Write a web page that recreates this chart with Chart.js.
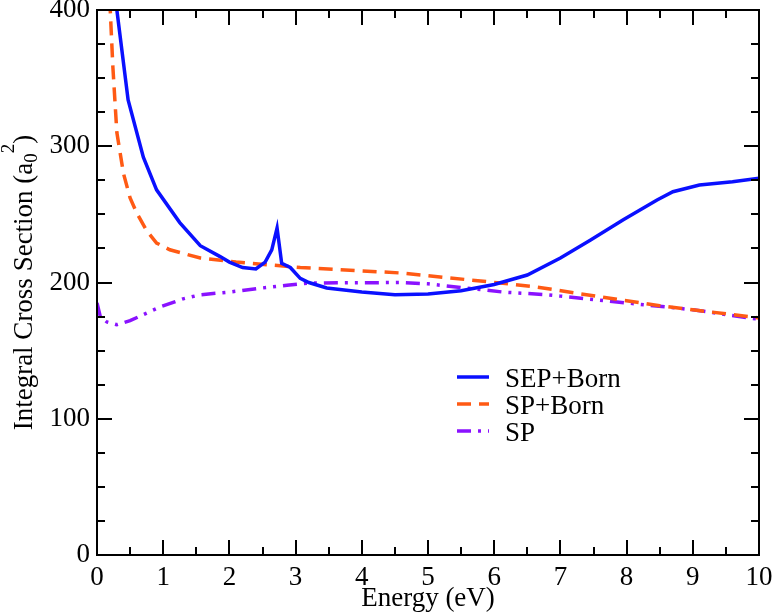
<!DOCTYPE html>
<html>
<head>
<meta charset="utf-8">
<script src="https://cdn.jsdelivr.net/npm/chart.js@4/dist/chart.umd.min.js"></script>
<style>
  html, body { margin: 0; padding: 0; background: #fff; }
  #wrap { position: relative; width: 773px; height: 615px; }
</style>
</head>
<body>
<div id="wrap"><canvas id="chart" width="773" height="615"></canvas></div>
<script>
// values: energy in eV, cross section in a0^2
const sepBornE = [0.25, 0.3, 0.47, 0.7, 0.9, 1.25, 1.56, 1.86, 2.0, 2.2, 2.4, 2.54, 2.64, 2.72, 2.79, 2.92, 3.07, 3.2, 3.47, 4.0, 4.5, 5.0, 5.5, 6.0, 6.5, 7.0, 7.45, 7.95, 8.46, 8.7, 9.1, 9.6, 10.0];
const sepBornV = [430, 400, 334, 292, 268, 244, 227, 219, 215, 211, 210, 215, 224, 240, 214, 211, 203, 200, 196, 193, 191, 191.5, 194, 198.5, 205.5, 218, 231, 246, 260.5, 266.6, 271.5, 274, 276.5];

const spBornE = [0.15, 0.2, 0.24, 0.3, 0.4, 0.5, 0.6, 0.75, 0.9, 1.1, 1.56, 2.1, 3.07, 4.58, 5.0, 6.09, 6.6, 7.6, 8.5, 9.0, 10.0];
const spBornV = [440, 400, 358, 310, 280, 262, 251, 238, 229, 224, 218, 215, 211, 207, 205, 199.6, 197, 189.5, 183, 180, 174];

const spE = [0.0, 0.05, 0.15, 0.3, 0.5, 0.95, 1.3, 1.56, 2.0, 2.5, 2.87, 3.2, 4.58, 5.0, 6.13, 6.8, 7.0, 8.0, 9.0, 10.0];
const spV = [185, 175, 171, 169, 172, 182, 188, 191, 193, 196, 198, 199.6, 200, 199, 193, 191, 190, 185, 180, 173];

const seriesNames = ["SEP+Born", "SP+Born", "SP"];
const seriesColors = ["#0a10ff", "#ff5a14", "#8a12ff"];
const seriesDashes = [[], [14, 8], [14, 7, 3, 7, 3, 7]];

const xMin = 0, xMax = 10, xMajor = 1, xMinor = 0.5;
const yMin = 0, yMax = 400, yMajor = 100, yMinor = 25;

const SERIF = "'Liberation Serif', 'Times New Roman', serif";

const toPoints = (xs, ys) => xs.map((x, i) => ({ x: x, y: ys[i] }));

// frame + inward ticks on all four sides (xmgrace style)
const frameTicks = {
  id: "frameTicks",
  afterDatasetsDraw(chart) {
    const { ctx, chartArea: a, scales: { x, y } } = chart;
    ctx.save();
    ctx.strokeStyle = "#000";
    ctx.lineWidth = 2;
    ctx.strokeRect(a.left, a.top, a.right - a.left, a.bottom - a.top);
    ctx.beginPath();
    for (let v = xMin; v <= xMax + 1e-9; v += xMinor) {
      const px = Math.round(x.getPixelForValue(v));
      const len = Math.abs(v / xMajor - Math.round(v / xMajor)) < 1e-6 ? 15 : 8;
      ctx.moveTo(px, a.bottom); ctx.lineTo(px, a.bottom - len);
      ctx.moveTo(px, a.top); ctx.lineTo(px, a.top + len);
    }
    for (let v = yMin; v <= yMax + 1e-9; v += yMinor) {
      const py = Math.round(y.getPixelForValue(v));
      const len = v % yMajor === 0 ? 15 : 8;
      ctx.moveTo(a.left, py); ctx.lineTo(a.left + len, py);
      ctx.moveTo(a.right, py); ctx.lineTo(a.right - len, py);
    }
    ctx.stroke();
    ctx.restore();
  }
};

// y title with subscript/superscript
const yTitle = {
  id: "yTitle",
  afterDraw(chart) {
    const { ctx, chartArea: a } = chart;
    const big = "27px " + SERIF, small = "19px " + SERIF;
    const parts = [
      { t: "Integral Cross Section (a", f: big, dy: 0 },
      { t: "0", f: small, dy: 5 },
      { t: "2", f: small, dy: -18 },
      { t: ")", f: big, dy: 0 }
    ];
    ctx.save();
    let total = 0;
    parts.forEach(p => { ctx.font = p.f; p.w = ctx.measureText(p.t).width; total += p.w; });
    const cy = (a.top + a.bottom) / 2;
    ctx.translate(32, cy);
    ctx.rotate(-Math.PI / 2);
    ctx.fillStyle = "#000";
    ctx.textBaseline = "alphabetic";
    ctx.textAlign = "left";
    let cx = -total / 2;
    parts.forEach(p => { ctx.font = p.f; ctx.fillText(p.t, cx, p.dy); cx += p.w; });
    ctx.restore();
  }
};

// legend box inside the plot
const innerLegend = {
  id: "innerLegend",
  afterDraw(chart) {
    const { ctx } = chart;
    const rowsY = [377, 404, 431];
    ctx.save();
    seriesNames.forEach((name, i) => {
      ctx.strokeStyle = seriesColors[i];
      ctx.lineWidth = 3.5;
      ctx.setLineDash(seriesDashes[i]);
      ctx.beginPath();
      ctx.moveTo(457, rowsY[i]);
      ctx.lineTo(489, rowsY[i]);
      ctx.stroke();
      ctx.setLineDash([]);
      ctx.fillStyle = "#000";
      ctx.font = "27px " + SERIF;
      ctx.textBaseline = "alphabetic";
      ctx.fillText(name, 505, rowsY[i] + 10);
    });
    ctx.restore();
  }
};

const datasets = [
  toPoints(sepBornE, sepBornV),
  toPoints(spBornE, spBornV),
  toPoints(spE, spV)
].map((pts, i) => ({
  label: seriesNames[i],
  data: pts,
  borderColor: seriesColors[i],
  borderWidth: 3.5,
  borderDash: seriesDashes[i],
  pointRadius: 0,
  tension: 0,
  fill: false
}));

new Chart(document.getElementById("chart"), {
  type: "line",
  data: { datasets },
  options: {
    responsive: false,
    animation: false,
    devicePixelRatio: 1,
    layout: { padding: { top: 10, right: 14, left: 0, bottom: 0 } },
    plugins: { legend: { display: false }, tooltip: { enabled: false } },
    scales: {
      x: {
        type: "linear",
        min: xMin, max: xMax,
        grid: { display: false, drawTicks: false, tickLength: 0 },
        border: { display: false },
        ticks: { stepSize: xMajor, color: "#000", padding: 7, font: { family: SERIF, size: 27 } },
        title: { display: true, text: "Energy (eV)", color: "#000", padding: { top: 0, bottom: 0 }, font: { family: SERIF, size: 27 } },
        afterFit(s) { s.height = 60; s.paddingLeft = 0; s.paddingRight = 0; }
      },
      y: {
        min: yMin, max: yMax,
        grid: { display: false, drawTicks: false, tickLength: 0 },
        border: { display: false },
        ticks: { stepSize: yMajor, color: "#000", padding: 7, font: { family: SERIF, size: 27 } },
        afterFit(s) { s.width = 97; s.paddingTop = 0; s.paddingBottom = 0; }
      }
    }
  },
  plugins: [frameTicks, yTitle, innerLegend]
});
</script>
</body>
</html>
